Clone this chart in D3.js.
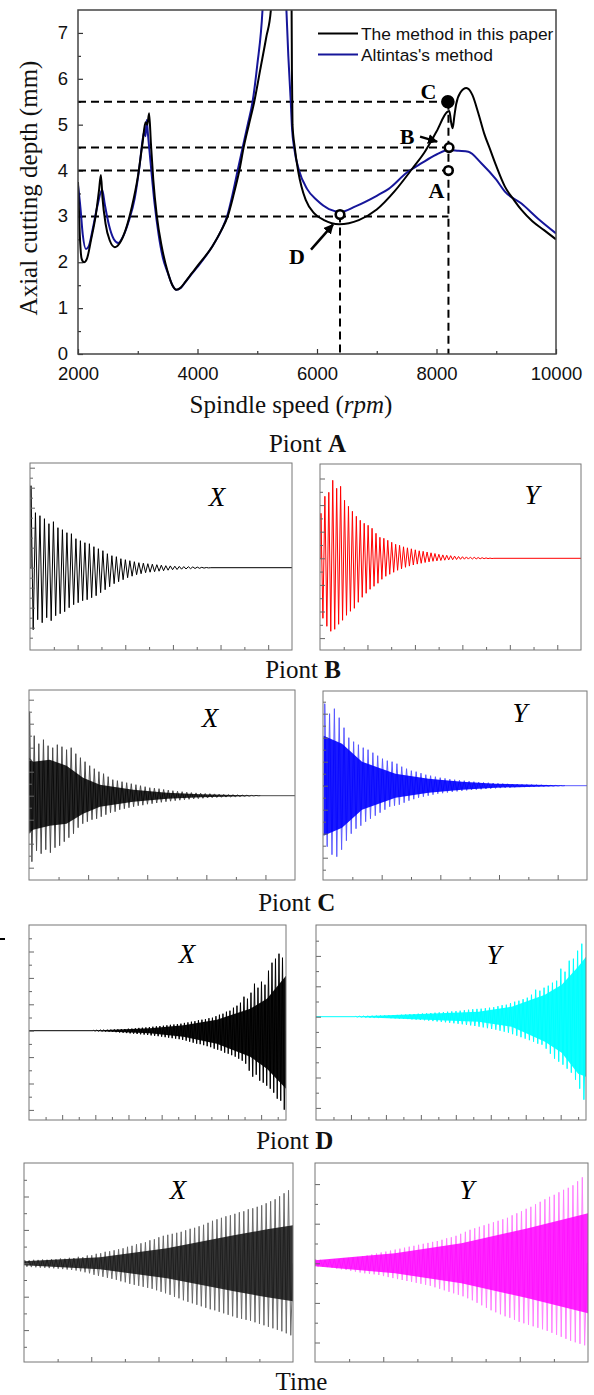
<!DOCTYPE html>
<html>
<head>
<meta charset="utf-8">
<script src="https://cdn.jsdelivr.net/npm/d3@7"></script>
<style>
  body { margin: 0; background: #fff; }
  svg { display: block; }
</style>
</head>
<body>
<svg id="fig" width="594" height="1395"></svg>
<script>
// ---------- stability lobes (top chart) ----------
const speedPaper = [2000, 2030, 2060, 2100, 2150, 2220, 2300, 2350, 2383, 2410, 2460, 2530, 2617, 2700, 2800, 2900,
    3000, 3080, 3130, 3160, 3190, 3220, 3260, 3320, 3400, 3500, 3580, 3645, 3720, 3800, 3900, 4000, 4250, 4400,
    4505, 4600, 4700, 4772, 4860, 4950, 5050, 5150, 5228, 5240, 5560, 5575, 5580, 5590, 5628, 5683, 5740, 5811,
    5950, 6117, 6370, 6700, 7000, 7300, 7600, 7800, 8000, 8180, 8215, 8245, 8270, 8300, 8330, 8400, 8500, 8600,
    8700, 8800, 8900, 9000, 9145, 9300, 9422, 9600, 9800, 10000];
const depthPaper = [3.75, 2.6, 2.08, 2.0, 2.08, 2.5, 3.05, 3.55, 3.9, 3.4, 2.85, 2.48, 2.33, 2.42, 2.72, 3.2,
    3.85, 4.6, 5.05, 5.0, 5.25, 4.6, 3.8, 3.0, 2.35, 1.8, 1.5, 1.4, 1.45, 1.58, 1.75, 1.92, 2.35, 2.7,
    3.0, 3.45, 4.0, 4.5, 5.0, 5.5, 6.2, 6.9, 7.5, 7.8, 7.8, 7.5, 6.2, 5.0, 4.5, 4.0, 3.65, 3.36,
    3.07, 2.92, 2.83, 2.92, 3.15, 3.55, 4.05, 4.4, 4.85, 5.28, 5.3, 5.05, 4.92, 5.2, 5.45, 5.7, 5.8, 5.65,
    5.25, 4.8, 4.45, 4.1, 3.65, 3.35, 3.14, 2.9, 2.7, 2.5];

const speedAltintas = [2000, 2040, 2080, 2133, 2180, 2250, 2320, 2405, 2450, 2520, 2600, 2672, 2750, 2850, 2950,
    3030, 3080, 3110, 3130, 3150, 3170, 3220, 3280, 3350, 3420, 3500, 3580, 3645, 3720, 3800, 3900, 4000, 4250,
    4400, 4495, 4590, 4672, 4755, 4840, 4922, 5000, 5088, 5100, 5480, 5488, 5520, 5561, 5583, 5617, 5700, 5833,
    6000, 6200, 6400, 6644, 7000, 7200, 7500, 7750, 8000, 8200, 8367, 8533, 8750, 9000, 9145, 9422, 9700, 10000];
const depthAltintas = [3.68, 3.2, 2.6, 2.29, 2.35, 2.75, 3.2, 3.58, 3.25, 2.8, 2.5, 2.42, 2.55, 2.9, 3.4,
    4.1, 4.65, 4.85, 4.75, 5.1, 4.8, 4.1, 3.3, 2.6, 2.1, 1.78, 1.5, 1.4, 1.44, 1.57, 1.74, 1.9, 2.35,
    2.7, 3.0, 3.5, 4.0, 4.5, 5.0, 5.5, 6.3, 7.5, 7.8, 7.8, 7.5, 6.5, 5.5, 4.9, 4.5, 4.0, 3.6,
    3.35, 3.16, 3.1, 3.22, 3.45, 3.6, 3.95, 4.16, 4.35, 4.45, 4.43, 4.41, 4.16, 3.8, 3.54, 3.28, 2.95, 2.63];

const seriesNames = ['The method in this paper', "Altintas's method"];
const speedTicks = [2000, 4000, 6000, 8000, 10000];
const speedMinor = [3000, 5000, 7000, 9000];
const depthTicks = [0, 1, 2, 3, 4, 5, 6, 7];
const depthMinor = [0.5, 1.5, 2.5, 3.5, 4.5, 5.5, 6.5];

const pointNames = ['A', 'B', 'C', 'D'];
const pointSpeed = [8200, 8210, 8190, 6385];
const pointDepth = [4.0, 4.5, 5.5, 3.04];
const guideDepths = [5.5, 4.5, 4.0, 3.0];
const guideSpeeds = [8200, 6385];
const guideTops = [5.5, 3.04];

// ---------- time responses: successive peaks (hi) and troughs (lo) ----------
const axHi = [82,55,52,49,44,46,40,38,35,34,29,27,25,24,21,19,17,14,12,11,9,8,7,6,5,4.5,4,3.5,3,2.5,2,1.8,1.5,1.3,1.1,1,0.8,0.6,0.4,0.2];
const axLo = [-62,-52,-55,-50,-53,-48,-46,-44,-40,-37,-35,-33,-32,-30,-28,-25,-22,-19,-16,-14,-12,-10,-8.5,-7,-6,-5,-4.5,-4,-3.5,-3,-2.5,-2,-1.8,-1.5,-1.3,-1,-0.8,-0.6,-0.4,-0.2];

const ayHi = [45,62,66,78,70,72,58,52,47,42,38,35,33,30,25,21,20,18,16,14,13,11.5,10.5,9.5,8.5,7.5,7,6.3,5.5,4.8,4,3.4,3,2.6,2.2,1.8,1.6,1.4,1.2,1,0.8,0.6,0.4,0.2];
const ayLo = [-60,-68,-73,-71,-66,-62,-57,-53,-50,-44,-39,-35,-31,-28,-25,-21,-18,-16,-14,-12,-10.5,-9,-7.8,-6.7,-5.8,-5,-4.2,-3.6,-3,-2.6,-2.2,-1.9,-1.6,-1.4,-1.2,-1,-0.9,-0.8,-0.7,-0.6,-0.5,-0.4,-0.3,-0.2];

const bxHi = [84,60,52,56,50,48,51,49,46,48,42,38,34,30,27,24,22,19,16,15,14,13,12,11,10,9,8,7.5,7,6.2,5.6,5,4.4,4,3.5,3.1,2.8,2.5,2.2,2,1.8,1.5,1.3,1.1,1,0.8,0.6,0.5,0.3,0.2];
const bxLo = [-66,-55,-58,-54,-57,-52,-50,-46,-42,-38,-32,-28,-26,-24,-23,-21,-19,-17,-16,-14,-13,-12,-11,-10,-9.5,-8.5,-8,-7.3,-6.6,-6,-5.5,-5,-4.5,-4,-3.6,-3.2,-2.9,-2.6,-2.3,-2,-1.8,-1.6,-1.4,-1.2,-1,-0.8,-0.6,-0.5,-0.3,-0.2];
const bxCoreT = [0, 0.14, 0.7, 1.27, 1.83, 2.4, 3.53, 4.67, 5.8, 7.84];
const bxCoreHi = [38, 34, 36, 30, 18, 11, 6, 3, 1.5, 0.2];
const bxCoreLo = [-38, -34, -30, -28, -18, -11, -6, -3, -1.5, -0.2];

const byHi = [82,72,77,68,58,48,44,41,38,36,33,30,27,25,24,22,19,17,15,14,12.5,11,10,9,8,7.3,6.5,6,5.4,5,4.5,4,3.6,3.3,3,2.7,2.4,2.1,1.9,1.7,1.5,1.3,1.1,1,0.8,0.7,0.5,0.4,0.3,0.2];
const byLo = [-61,-69,-71,-64,-55,-48,-43,-40,-36,-33,-30,-27,-24,-21,-20,-19,-17,-15,-13.5,-12,-11,-10,-9,-8,-7.5,-6.8,-6.2,-5.7,-5.2,-4.7,-4.3,-4,-3.6,-3.3,-3,-2.7,-2.4,-2.1,-1.9,-1.6,-1.4,-1.2,-1,-0.9,-0.7,-0.6,-0.5,-0.4,-0.3,-0.2];
const byCoreT = [0.02, 0.65, 1.33, 2.47, 3.6, 4.74, 5.88, 8.26];
const byCoreHi = [50, 42, 24, 12, 7, 4, 2, 0.2];
const byCoreLo = [-50, -42, -24, -12, -7, -4, -2, -0.2];

const cxHi = [0.5,0.6,0.8,0.9,1,1.1,1.3,1.4,1.6,1.7,2,2.1,2.4,2.8,3,3.3,3.6,4,4.4,4.7,5,5.4,5.9,6.2,6.6,7,7.8,8.3,9,9.5,10.5,11,11.5,12.5,13,14.5,16,17,19,20,23,25,28,34,32,38,47,43,49,46,60,68,72,77,73];
const cxLo = [-0.4,-0.5,-0.6,-0.8,-1,-1.2,-1.5,-1.8,-2.1,-2.4,-2.7,-3,-3.3,-3.6,-3.9,-4.3,-4.7,-5.1,-5.5,-6,-6.5,-7,-7.5,-8,-8.5,-9.2,-10,-11,-12,-13,-13.5,-14.5,-15.5,-16.5,-18,-19,-20,-22,-23,-24.5,-26,-28,-30,-33,-40,-46,-44,-50,-52,-55,-58,-62,-68,-70,-79];
const cxCoreT = [3.88, 7.3, 9.32, 11.33, 13.34, 14.35, 15.5];
const cxCoreHi = [0.3, 2.5, 5.5, 11, 22, 32, 55];
const cxCoreLo = [-0.3, -2.5, -6, -13, -26, -38, -58];

const cyHi = [0.4,0.5,0.7,0.8,0.9,1,1.2,1.3,1.4,1.6,1.8,2,2.2,2.5,2.7,3,3.2,3.4,3.7,4,4.3,4.6,5,5.3,5.6,6,6.5,7,7.5,7.8,8,8.5,9,9.5,10.5,11.5,12,13.5,15,16,17.5,19,22,27,26,29,31,34,36,48,45,56,58,66,73];
const cyLo = [-0.4,-0.5,-0.7,-0.8,-0.9,-1,-1.2,-1.3,-1.5,-1.7,-1.9,-2.1,-2.4,-2.7,-3,-3.3,-3.6,-4,-4.4,-4.8,-5.2,-5.6,-6.1,-6.6,-7.1,-7.6,-8.2,-8.7,-9.3,-10,-10.7,-11.5,-12.3,-13,-14,-15,-16,-17.5,-19,-20.5,-22,-23.5,-25,-27,-28,-32,-37,-42,-45,-48,-52,-56,-63,-72,-83];
const cyCoreT = [2.25, 9.3, 11.2, 13.1, 14.06, 15.0, 15.45];
const cyCoreHi = [0.3, 5, 10, 22, 32, 50, 60];
const cyCoreLo = [-0.3, -5, -10, -25, -36, -57, -60];

const dxHi = [3.3,3,3.5,3.4,3.8,3.6,4.2,4,4.8,4.6,5.5,5.3,6.5,6.2,7.8,8,9.5,10,11.5,12,13,14,15,16.5,17.5,19,20,21,23,24,26,27.5,28.5,29.5,30.5,31.5,33,34.5,35.5,37,38.5,40.5,42.5,44,45.5,47,48,49.5,51,52,54,55,56.5,58,60,62,64,67,70,73];
const dxLo = [-3.5,-3.8,-4,-4.3,-4.5,-4.8,-5,-5.4,-5.8,-6.2,-6.6,-7.2,-8,-9,-10,-11.5,-12.5,-13.5,-14.5,-15.5,-16.5,-18,-19,-20.5,-21.5,-22.5,-23.5,-24.5,-25.5,-27,-28.5,-30,-31.5,-33.5,-35,-37,-38.5,-40,-41.5,-43,-44.5,-46,-47,-48.5,-50,-51.5,-53,-54.5,-55.5,-56.5,-57.5,-59,-60.5,-62,-63.5,-65,-66.5,-68,-70,-72];
const dxCoreT = [0, 2.26, 4.25, 6.24, 7.23, 8];
const dxCoreHi = [2, 6, 15, 28, 34, 38];
const dxCoreLo = [-2, -6, -15, -28, -34, -38];

const dyHi = [4,3.5,3.3,3.6,4,4.3,5,5.4,5.8,6.4,7,7.8,8.8,9.8,10.8,11.7,12.7,13.7,14.6,15.6,16.6,17.5,18.5,19.5,20.4,21.4,22.3,23.5,25,26,27.5,29.5,31.5,33.5,35,36.5,38,39.5,41,42.5,44,45.5,48,50,52,54.5,56.5,59,61.5,64,66.5,68.5,71,73.5,75.5,78,82,86];
const dyLo = [-3.3,-3.3,-3.8,-4.5,-5.3,-6,-6.7,-7.5,-8.3,-9.2,-10,-10.5,-11,-11.7,-12.8,-13.8,-14.8,-15.8,-16.7,-17.7,-18.5,-19.5,-20.5,-21.5,-22.5,-24,-25.5,-27,-28.5,-30,-31.5,-33,-35,-37,-39.5,-42,-44.5,-47,-49,-51,-53,-54.5,-56.5,-58.5,-60,-61.5,-63,-64.5,-66,-67.5,-69.5,-71.5,-73.5,-75.5,-77.5,-79,-80.5,-82];
const dyCoreT = [0, 2.34, 4.29, 6.24, 8];
const dyCoreHi = [3, 10, 20, 35, 50];
const dyCoreLo = [-3, -10, -20, -35, -50];

const SANS  = '"Liberation Sans", Arial, sans-serif';
const SERIF = '"Liberation Serif", "Times New Roman", serif';
const svg = d3.select('#fig');

// ================= top chart =================
const M = { left: 78, right: 556, top: 10, bottom: 354 };
const x = d3.scaleLinear().domain([2000, 10000]).range([M.left, M.right]);
const y = d3.scaleLinear().domain([0, 7.5]).range([M.bottom, M.top]);

svg.append('clipPath').attr('id', 'plotClip')
    .append('rect').attr('x', M.left).attr('y', M.top)
    .attr('width', M.right - M.left).attr('height', M.bottom - M.top);

function styleAxis(g, col) {
    g.select('.domain').remove();
    g.selectAll('.tick line').attr('stroke', col).attr('stroke-width', 1.2);
}

const xAxisG = svg.append('g').attr('transform', `translate(0,${M.bottom})`)
    .call(d3.axisBottom(x).tickValues(speedTicks).tickSize(-5).tickPadding(13).tickFormat(d3.format('d')));
styleAxis(xAxisG, '#333');
xAxisG.selectAll('text').attr('font-family', SANS).attr('font-size', 18.5).attr('fill', '#111');
styleAxis(svg.append('g').attr('transform', `translate(0,${M.bottom})`)
    .call(d3.axisBottom(x).tickValues(speedMinor).tickSize(-3).tickFormat('')), '#333');

const yAxisG = svg.append('g').attr('transform', `translate(${M.left},0)`)
    .call(d3.axisLeft(y).tickValues(depthTicks).tickSize(-5).tickPadding(10).tickFormat(d3.format('d')));
styleAxis(yAxisG, '#333');
yAxisG.selectAll('text').attr('font-family', SANS).attr('font-size', 18.5).attr('fill', '#111').attr('dy', '0.3em');
styleAxis(svg.append('g').attr('transform', `translate(${M.left},0)`)
    .call(d3.axisLeft(y).tickValues(depthMinor).tickSize(-3).tickFormat('')), '#333');

// dashed guides
const guides = svg.append('g').attr('stroke', '#000').attr('stroke-width', 2)
    .attr('stroke-dasharray', '8,5').attr('fill', 'none');
guideDepths.forEach(d => {
    guides.append('line').attr('x1', x(2000)).attr('x2', x(d3.max(guideSpeeds)))
        .attr('y1', y(d)).attr('y2', y(d));
});
guideSpeeds.forEach((s, i) => {
    guides.append('line').attr('x1', x(s)).attr('x2', x(s))
        .attr('y1', y(guideTops[i])).attr('y2', y(0));
});

// lobes
const lobe = d3.line().x(d => x(d[0])).y(d => y(d[1])).curve(d3.curveMonotoneX);
const curves = svg.append('g').attr('clip-path', 'url(#plotClip)').attr('fill', 'none');
curves.append('path').attr('d', lobe(d3.zip(speedAltintas, depthAltintas)))
    .attr('stroke', '#16169a').attr('stroke-width', 2);
curves.append('path').attr('d', lobe(d3.zip(speedPaper, depthPaper)))
    .attr('stroke', '#000').attr('stroke-width', 2);

// frame
svg.append('rect').attr('x', M.left).attr('y', M.top)
    .attr('width', M.right - M.left).attr('height', M.bottom - M.top)
    .attr('fill', 'none').attr('stroke', '#444').attr('stroke-width', 1.5);

// legend
const legendColors = ['#000', '#16169a'];
seriesNames.forEach((name, i) => {
    const ly = 33.5 + i * 21;
    svg.append('line').attr('x1', 318).attr('x2', 358).attr('y1', ly).attr('y2', ly)
        .attr('stroke', legendColors[i]).attr('stroke-width', 2);
    svg.append('text').attr('x', 361).attr('y', ly + 6)
        .attr('font-family', SANS).attr('font-size', 17.4).attr('fill', '#111').text(name);
});

// marked points, labels, arrows
svg.append('defs').append('marker').attr('id', 'arrowHead')
    .attr('viewBox', '0 0 10 10').attr('refX', 9).attr('refY', 5)
    .attr('markerWidth', 4).attr('markerHeight', 4).attr('orient', 'auto')
    .append('path').attr('d', 'M0,0L10,5L0,10Z').attr('fill', '#000');

const labelOffset = { A: [-12, 27], B: [-42, -4], C: [-19.5, -3], D: [-43, 49] };
const arrowOffset = { B: [-29, -11, -12, -6], D: [-29, 35, -7, 10] };
pointNames.forEach((p, i) => {
    const cx = x(pointSpeed[i]), cy = y(pointDepth[i]);
    const filled = p === 'C';
    svg.append('circle').attr('cx', cx).attr('cy', cy).attr('r', filled ? 5.5 : 4.3)
        .attr('fill', filled ? '#000' : '#fff').attr('stroke', '#000').attr('stroke-width', 2.6);
    svg.append('text').attr('x', cx + labelOffset[p][0]).attr('y', cy + labelOffset[p][1])
        .attr('text-anchor', 'middle').attr('font-family', SERIF).attr('font-weight', 'bold')
        .attr('font-size', 22).attr('fill', '#000').text(p);
    if (arrowOffset[p]) {
        const a = arrowOffset[p];
        svg.append('line').attr('x1', cx + a[0]).attr('y1', cy + a[1])
            .attr('x2', cx + a[2]).attr('y2', cy + a[3])
            .attr('stroke', '#000').attr('stroke-width', 2.5).attr('marker-end', 'url(#arrowHead)');
    }
});

// axis titles
const xt = svg.append('text').attr('x', 291).attr('y', 413).attr('text-anchor', 'middle')
    .attr('font-family', SERIF).attr('font-size', 25).attr('fill', '#111');
xt.append('tspan').text('Spindle speed (');
xt.append('tspan').attr('font-style', 'italic').text('rpm');
xt.append('tspan').text(')');
svg.append('text').attr('transform', 'translate(37,188) rotate(-90)').attr('text-anchor', 'middle')
    .attr('font-family', SERIF).attr('font-size', 25).attr('fill', '#111')
    .text('Axial cutting depth (mm)');

// ================= time-response panels =================
const headings = [
    { letter: 'A', x: 307.5, y: 452 },
    { letter: 'B', x: 303, y: 678 },
    { letter: 'C', x: 296.7, y: 911 },
    { letter: 'D', x: 294.7, y: 1149 },
];
headings.forEach(h => {
    const t = svg.append('text').attr('x', h.x).attr('y', h.y).attr('text-anchor', 'middle')
        .attr('font-family', SERIF).attr('font-size', 25).attr('fill', '#111');
    t.append('tspan').text('Piont ');
    t.append('tspan').attr('font-weight', 'bold').text(h.letter);
});
svg.append('text').attr('x', 301.5).attr('y', 1390).attr('text-anchor', 'middle')
    .attr('font-family', SERIF).attr('font-size', 25).attr('fill', '#111').text('Time');

const panels = [
    { id: 'ax', x0: 30,  x1: 292, y0: 463,  y1: 650,  mid: 567.7,  tMax: 11,    span: [0.04, 7.59], hi: axHi, lo: axLo, line: '#000',    yStep: 10,   name: 'X', lx: 217, ly: 506 },
    { id: 'ay', x0: 320, x1: 581, y0: 464,  y1: 650,  mid: 558.3,  tMax: 11,    span: [0.04, 7.33], hi: ayHi, lo: ayLo, line: '#ff0000', yStep: 13.3, name: 'Y', lx: 532, ly: 504 },
    { id: 'bx', x0: 29,  x1: 295, y0: 690,  y1: 880,  mid: 795.7,  tMax: 9,     span: [0.02, 7.84], hi: bxHi, lo: bxLo, line: '#4a4a4a', yStep: 12,   name: 'X', lx: 210, ly: 727,
      coreT: bxCoreT, coreHi: bxCoreHi, coreLo: bxCoreLo, core: '#000', coreOpacity: 0.85 },
    { id: 'by', x0: 323, x1: 587, y0: 691,  y1: 880,  mid: 785.7,  tMax: 9,     span: [0.06, 8.26], hi: byHi, lo: byLo, line: '#5a5aff', yStep: 12,   name: 'Y', lx: 520, ly: 722,
      coreT: byCoreT, coreHi: byCoreHi, coreLo: byCoreLo, core: '#0000ff', coreOpacity: 0.9 },
    { id: 'cx', x0: 29,  x1: 286, y0: 925,  y1: 1120, mid: 1030.7, tMax: 15.5,  span: [3.88, 15.5], hi: cxHi, lo: cxLo, line: '#000',    yStep: 13.2, name: 'X', lx: 187, ly: 963,
      coreT: cxCoreT, coreHi: cxCoreHi, coreLo: cxCoreLo, core: '#000', coreOpacity: 0.95 },
    { id: 'cy', x0: 316, x1: 586, y0: 925,  y1: 1120, mid: 1016.7, tMax: 15.45, span: [2.25, 15.45], hi: cyHi, lo: cyLo, line: '#00ffff', yStep: 15.2, name: 'Y', lx: 494, ly: 964,
      coreT: cyCoreT, coreHi: cyCoreHi, coreLo: cyCoreLo, core: '#00ffff', coreOpacity: 0.95 },
    { id: 'dx', x0: 24,  x1: 293, y0: 1163, y1: 1362, mid: 1263.3, tMax: 8,     span: [0.02, 8],    hi: dxHi, lo: dxLo, line: '#6a6a6a', yStep: 16.7, name: 'X', lx: 178, ly: 1199,
      coreT: dxCoreT, coreHi: dxCoreHi, coreLo: dxCoreLo, core: '#111', coreOpacity: 0.85 },
    { id: 'dy', x0: 315, x1: 588, y0: 1163, y1: 1362, mid: 1263.3, tMax: 8,     span: [0.02, 7.97], hi: dyHi, lo: dyLo, line: '#ff80ff', yStep: 19.8, name: 'Y', lx: 467, ly: 1199,
      coreT: dyCoreT, coreHi: dyCoreHi, coreLo: dyCoreLo, core: '#ff00ff', coreOpacity: 0.85 },
];

function drawPanel(p) {
    const g = svg.append('g');
    const px = d3.scaleLinear().domain([0, p.tMax]).range([p.x0, p.x1]);
    const py = d3.scaleLinear().domain([p.mid - p.y1, p.mid - p.y0]).range([p.y1, p.y0]);

    g.append('clipPath').attr('id', 'clip-' + p.id)
        .append('rect').attr('x', p.x0).attr('y', p.y0)
        .attr('width', p.x1 - p.x0).attr('height', p.y1 - p.y0);
    const plot = g.append('g').attr('clip-path', `url(#clip-${p.id})`);

    // trace: peak, trough, peak, ... spread over the active span, flat elsewhere
    const n = Math.min(p.hi.length, p.lo.length);
    const dt = (p.span[1] - p.span[0]) / n;
    const pts = [[0, 0], [p.span[0], 0]];
    for (let i = 0; i < n; i++) {
        pts.push([p.span[0] + i * dt, p.hi[i]]);
        pts.push([p.span[0] + (i + 0.5) * dt, p.lo[i]]);
    }
    pts.push([p.span[1], 0], [p.tMax, 0]);
    plot.append('path')
        .attr('d', d3.line().x(d => px(d[0])).y(d => py(d[1]))(pts))
        .attr('fill', 'none').attr('stroke', p.line).attr('stroke-width', 1);

    if (p.coreT) {
        const area = d3.area().x(d => px(d[0])).y0(d => py(d[1])).y1(d => py(d[2]));
        plot.append('path').attr('d', area(d3.zip(p.coreT, p.coreLo, p.coreHi)))
            .attr('fill', p.core).attr('opacity', p.coreOpacity);
    }

    // ticks (inside)
    const tk = d3.range(1, Math.ceil(p.tMax));
    const kLo = Math.ceil((p.mid - p.y1) / p.yStep + 0.3), kHi = Math.floor((p.mid - p.y0) / p.yStep - 0.3);
    const yk = d3.range(kLo, kHi + 1);
    const tickAxis = (axis, tr) => {
        const a = g.append('g').attr('transform', tr).call(axis);
        a.select('.domain').remove();
        a.selectAll('line').attr('stroke', '#666');
    };
    tickAxis(d3.axisBottom(px).tickValues(tk.filter(v => v % 2 === 0)).tickSize(-5).tickFormat(''), `translate(0,${p.y1})`);
    tickAxis(d3.axisBottom(px).tickValues(tk.filter(v => v % 2 !== 0)).tickSize(-3).tickFormat(''), `translate(0,${p.y1})`);
    tickAxis(d3.axisLeft(py).tickValues(yk.filter(k => k % 2 === 0).map(k => k * p.yStep)).tickSize(-5).tickFormat(''), `translate(${p.x0},0)`);
    tickAxis(d3.axisLeft(py).tickValues(yk.filter(k => k % 2 !== 0).map(k => k * p.yStep)).tickSize(-3).tickFormat(''), `translate(${p.x0},0)`);

    g.append('rect').attr('x', p.x0).attr('y', p.y0)
        .attr('width', p.x1 - p.x0).attr('height', p.y1 - p.y0)
        .attr('fill', 'none').attr('stroke', '#777').attr('stroke-width', 1);

    g.append('text').attr('x', p.lx).attr('y', p.ly).attr('text-anchor', 'middle')
        .attr('font-family', SERIF).attr('font-style', 'italic').attr('font-size', 27)
        .attr('fill', '#000').text(p.name);
}
panels.forEach(drawPanel);

// small stray mark at the left margin of the reference
svg.append('line').attr('x1', 0).attr('x2', 5).attr('y1', 939).attr('y2', 939)
    .attr('stroke', '#000').attr('stroke-width', 2);
</script>
</body>
</html>
